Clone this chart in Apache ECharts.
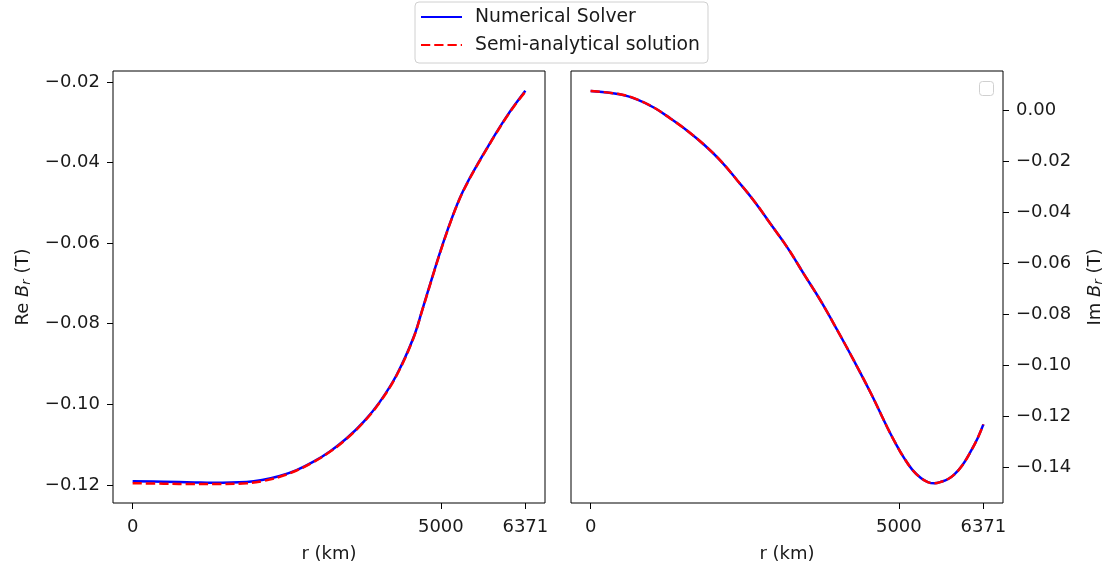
<html lang="en">
<head>
  <meta charset="utf-8">
  <title>Br comparison</title>
  <script src="https://cdn.jsdelivr.net/npm/echarts@6/dist/echarts.min.js"></script>
  <style>
    body { margin: 0; background: #fff; }
    #chart { width: 1111px; height: 569px; }
  </style>
</head>
<body>
<div id="chart"></div>
<script>
  // radius samples (km) and values
  var rLeft = [0, 500, 1000, 1300, 1850, 2100, 2386, 2650, 2927, 3200, 3468, 3750, 4010, 4280, 4550, 4700, 4850, 5000, 5150, 5300, 5450, 5600, 5750, 5900, 6050, 6200, 6371];
  var reNum = [-0.1191, -0.1192, -0.1194, -0.1195, -0.1193, -0.1188, -0.1178, -0.1164, -0.1143, -0.1117, -0.1085, -0.1043, -0.0994, -0.0928, -0.0837, -0.0765, -0.0690, -0.0617, -0.0550, -0.0491, -0.0444, -0.0403, -0.0364, -0.0326, -0.0290, -0.0257, -0.0222];
  var reSemi = [-0.1196, -0.1197, -0.1198, -0.1198, -0.1196, -0.1191, -0.1180, -0.1165, -0.1144, -0.1118, -0.1086, -0.1044, -0.0995, -0.0929, -0.0838, -0.0766, -0.0691, -0.0618, -0.0551, -0.0492, -0.0445, -0.0404, -0.0365, -0.0327, -0.0291, -0.0258, -0.0224];

  var rRight = [0, 491, 750, 1032, 1300, 1573, 1850, 2113, 2380, 2654, 2920, 3195, 3460, 3735, 4000, 4275, 4550, 4817, 4960, 5086, 5220, 5357, 5470, 5573, 5700, 5800, 5897, 6030, 6168, 6280, 6371];
  var imNum = [0.0075, 0.0061, 0.0042, 0.0009, -0.0034, -0.0082, -0.0138, -0.0200, -0.0276, -0.0357, -0.0447, -0.0540, -0.0643, -0.0749, -0.0862, -0.0984, -0.1112, -0.1246, -0.1312, -0.1364, -0.1410, -0.1442, -0.1458, -0.1463, -0.1456, -0.1446, -0.1429, -0.1392, -0.1337, -0.1285, -0.1232];
  var imSemi = [0.0075, 0.0061, 0.0042, 0.0009, -0.0034, -0.0082, -0.0138, -0.0200, -0.0276, -0.0357, -0.0447, -0.0540, -0.0643, -0.0749, -0.0862, -0.0984, -0.1112, -0.1246, -0.1312, -0.1364, -0.1410, -0.1442, -0.1458, -0.1463, -0.1456, -0.1446, -0.1429, -0.1392, -0.1337, -0.1285, -0.1232];

  var xTicks = [0, 5000, 6371];
  var reTicks = [-0.12, -0.10, -0.08, -0.06, -0.04, -0.02];
  var imTicks = [0, -0.02, -0.04, -0.06, -0.08, -0.10, -0.12, -0.14];

  function pairs(xs, ys) {
    return xs.map(function (x, i) { return [x, ys[i]]; });
  }
  function fmt(v) {
    return v.toFixed(2).replace('-', '\u2212');
  }

  var font = 'DejaVu Sans';
  var txt = '#1a1a1a';
  var fs = 18;

  function xAxisFor(idx) {
    return {
      type: 'value', gridIndex: idx, min: -318.55, max: 6689.55,
      name: 'r (km)', nameLocation: 'middle', nameGap: 42,
      nameTextStyle: { fontFamily: font, fontSize: fs, color: txt },
      splitLine: { show: false },
      axisLine: { show: false, onZero: false },
      axisTick: { show: true, customValues: xTicks, length: 6, lineStyle: { color: '#000' } },
      axisLabel: { customValues: xTicks, margin: 15, fontFamily: font, fontSize: fs, color: txt,
        formatter: function (v) { return String(v); } }
    };
  }

  function yAxisFor(idx, pos, min, max, ticks, nm) {
    return {
      type: 'value', gridIndex: idx, position: pos, min: min, max: max,
      name: '{n|' + nm + ' }{i|B}{s|r}{n| (T)}', nameLocation: 'middle', nameGap: pos === 'left' ? 80 : 82,
      nameRotate: 90,
      nameTextStyle: {
        fontFamily: font, fontSize: fs, color: txt,
        rich: {
          n: { fontFamily: font, fontSize: fs, color: txt },
          i: { fontFamily: font, fontSize: fs, fontStyle: 'italic', color: txt },
          s: { fontFamily: font, fontSize: 13, fontStyle: 'italic', color: txt, padding: [7, 0, 0, 0] }
        }
      },
      splitLine: { show: false },
      axisLine: { show: false, onZero: false },
      axisTick: { show: true, customValues: ticks, length: 6, lineStyle: { color: '#000' } },
      axisLabel: { customValues: ticks, margin: 13, fontFamily: font, fontSize: fs, color: txt, formatter: fmt }
    };
  }

  function lineSeries(name, idx, data, color, dashed) {
    return {
      name: name, type: 'line', xAxisIndex: idx, yAxisIndex: idx,
      data: data, showSymbol: false, symbol: 'none', smooth: 0.4,
      lineStyle: { color: color, width: 2.5, type: dashed ? [9.25, 4] : 'solid' },
      itemStyle: { color: color },
      z: dashed ? 3 : 2
    };
  }

  var chart = echarts.init(document.getElementById('chart'));
  chart.setOption({
    animation: false,
    backgroundColor: '#fff',
    grid: [
      { left: 113, top: 71, width: 432, height: 432, show: true, borderColor: '#000', borderWidth: 1, backgroundColor: 'transparent' },
      { left: 571, top: 71, width: 432, height: 432, show: true, borderColor: '#000', borderWidth: 1, backgroundColor: 'transparent' }
    ],
    legend: {
      orient: 'vertical', left: 415, top: 2,
      padding: [4, 8, 7, 5], itemGap: 6, itemWidth: 41, itemHeight: 14,
      backgroundColor: '#fff', borderColor: '#d0d0d0', borderWidth: 1, borderRadius: 4,
      itemStyle: { opacity: 0 },
      textStyle: { fontFamily: font, fontSize: 18.8, lineHeight: 22, color: txt, padding: [0, 0, 0, 8] },
      data: ['Numerical Solver', 'Semi-analytical solution']
    },
    graphic: [
      { type: 'rect', left: 979, top: 81, shape: { width: 14, height: 14, r: 3 },
        style: { fill: '#fff', stroke: '#d0d0d0', lineWidth: 1 } }
    ],
    xAxis: [xAxisFor(0), xAxisFor(1)],
    yAxis: [
      yAxisFor(0, 'left', -0.1245, -0.0173, reTicks, 'Re'),
      yAxisFor(1, 'right', -0.1540, 0.0153, imTicks, 'Im')
    ],
    series: [
      lineSeries('Numerical Solver', 0, pairs(rLeft, reNum), '#0000ff', false),
      lineSeries('Semi-analytical solution', 0, pairs(rLeft, reSemi), '#ff0000', true),
      lineSeries('Numerical Solver', 1, pairs(rRight, imNum), '#0000ff', false),
      lineSeries('Semi-analytical solution', 1, pairs(rRight, imSemi), '#ff0000', true)
    ]
  });
</script>
</body>
</html>
